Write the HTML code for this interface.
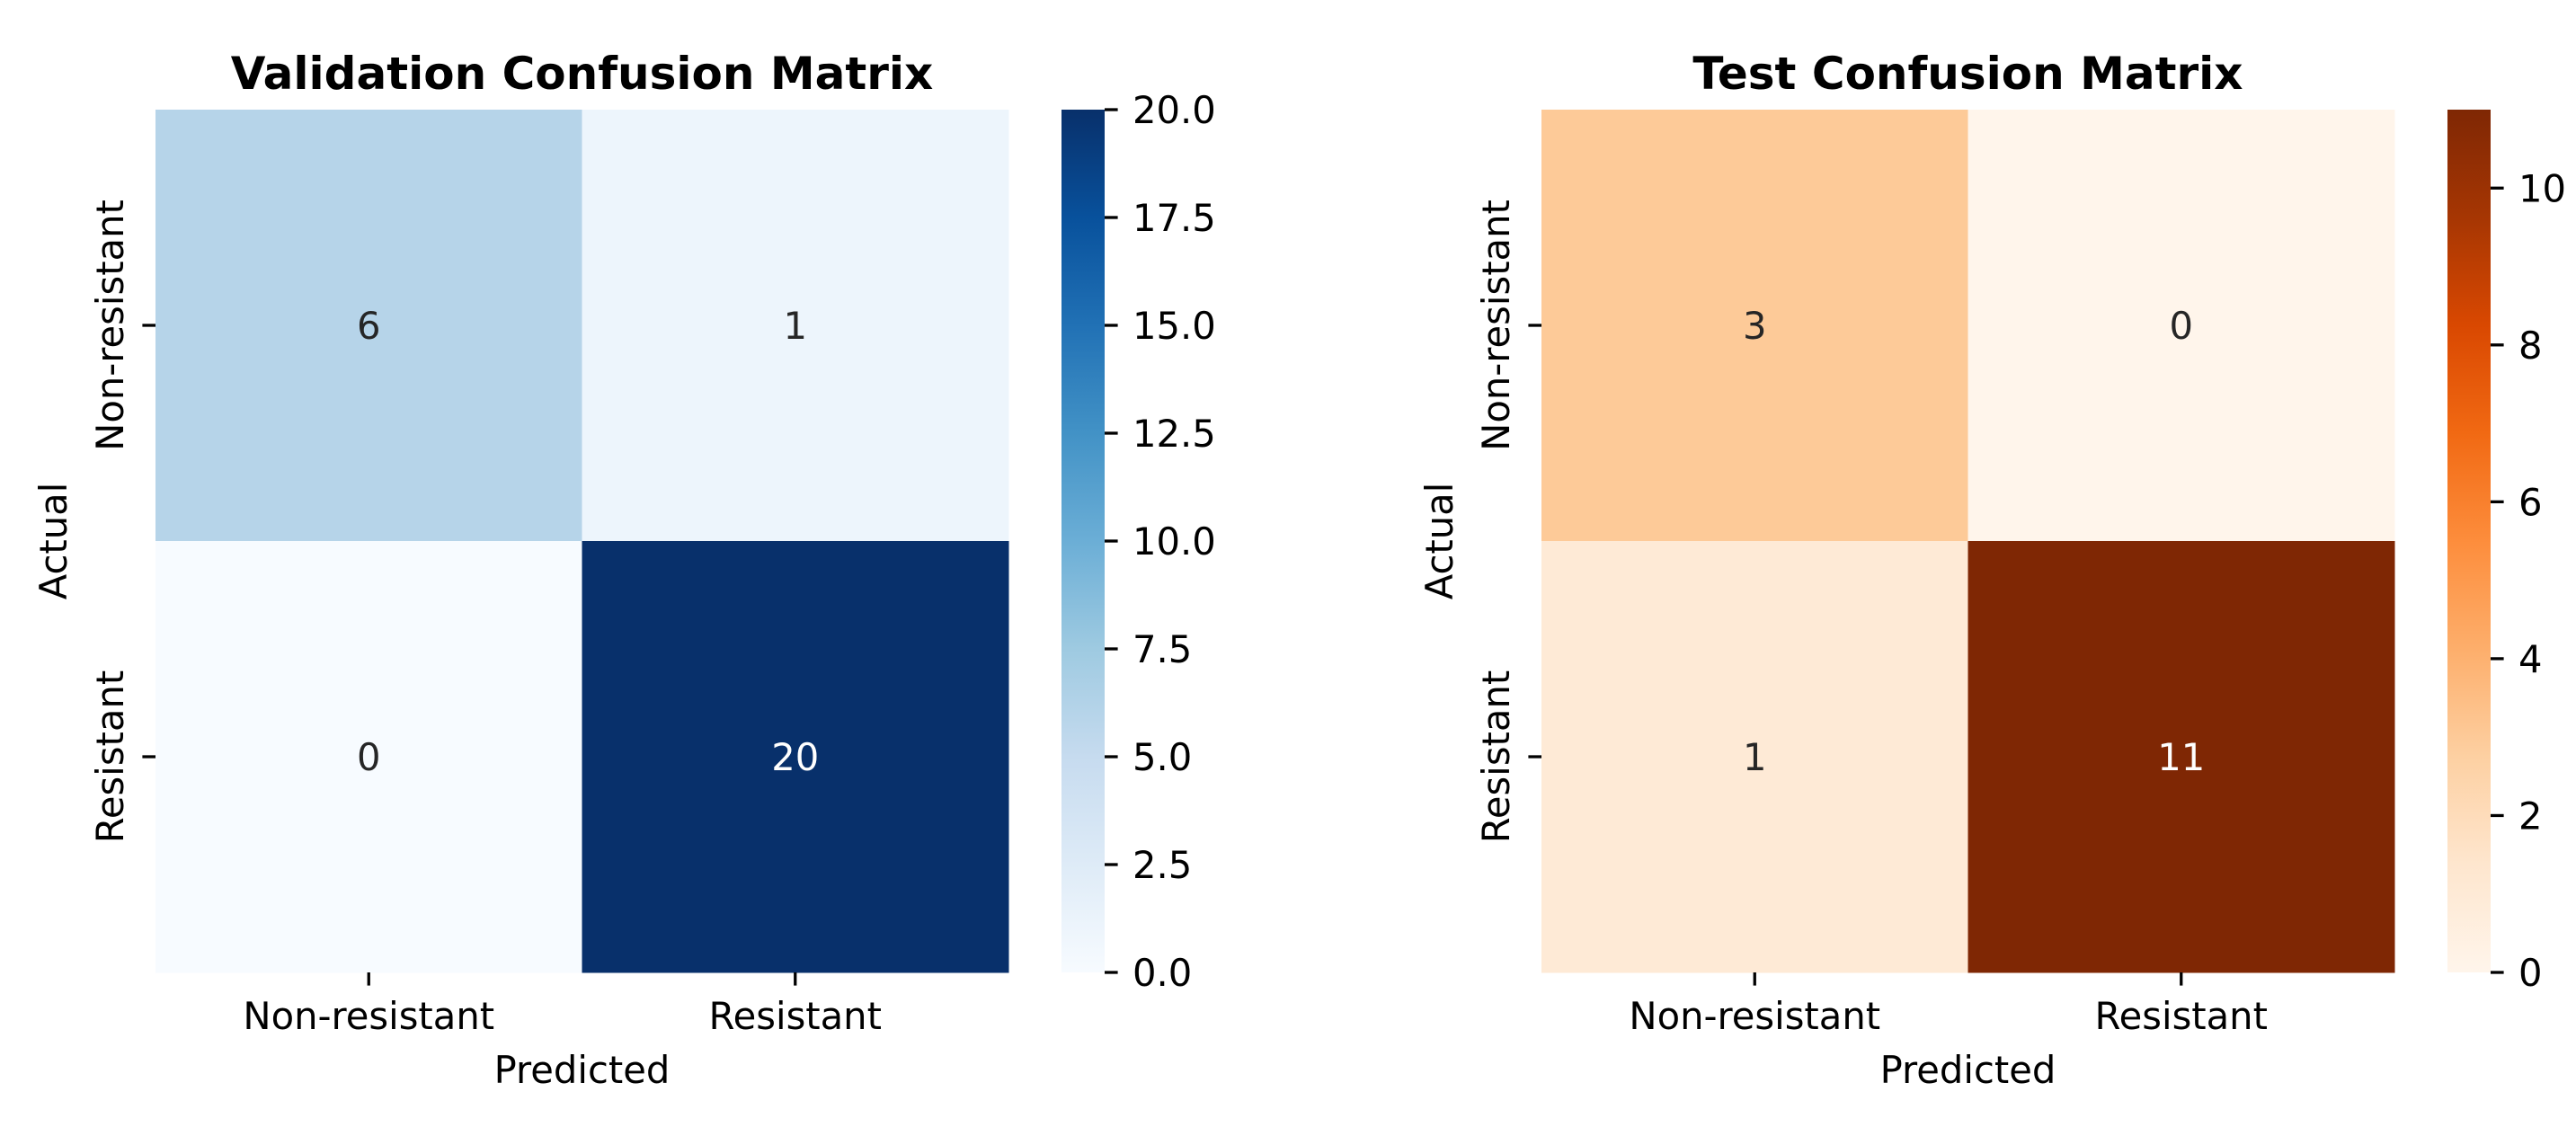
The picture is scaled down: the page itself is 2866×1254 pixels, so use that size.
<!DOCTYPE html>
<html><head><meta charset="utf-8"><style>
html,body{margin:0;padding:0;background:#fff;}
svg{display:block;font-family:"DejaVu Sans","Liberation Sans",sans-serif;}
</style></head><body>
<svg id="fig" width="2866" height="1254" viewBox="0 0 2866 1254" xmlns="http://www.w3.org/2000/svg"></svg>
<script>
const categories = ["Non-resistant","Resistant"];
const valValues = [[6,1],[0,20]];
const testValues = [[3,0],[1,11]];
const valTicks = [0,2.5,5,7.5,10,12.5,15,17.5,20];
const valTickLabels = ["0.0","2.5","5.0","7.5","10.0","12.5","15.0","17.5","20.0"];
const testTicks = [0,2,4,6,8,10];
const testTickLabels = ["0","2","4","6","8","10"];
const valMax = 20, testMax = 11;

const blues = ["#f7fbff","#deebf7","#c6dbef","#9ecae1","#6baed6","#4292c6","#2171b5","#08519c","#08306b"];
const oranges = ["#fff5eb","#fee6ce","#fdd0a2","#fdae6b","#fd8d3c","#f16913","#d94801","#a63603","#7f2704"];
const NS = "http://www.w3.org/2000/svg";
const svg = document.getElementById("fig");
function el(tag, attrs, parent){const e=document.createElementNS(NS,tag);for(const k in attrs)e.setAttribute(k,attrs[k]);(parent||svg).appendChild(e);return e;}
function hex(c){return [1,3,5].map(i=>parseInt(c.substr(i,2),16));}
function cmap(stops,t){t=Math.max(0,Math.min(1,t));const p=t*(stops.length-1);const i=Math.min(Math.floor(p),stops.length-2);const f=p-i;const a=hex(stops[i]),b=hex(stops[i+1]);return "rgb("+a.map((v,k)=>Math.round(v+(b[k]-v)*f)).join(",")+")";}

function panel(cfg){
  const g=el("g",{});
  
  
  const x0=cfg.x0,x1=cfg.x1,y0=122,y1=1082;
  const n=categories.length, cw=(x1-x0)/n, ch=(y1-y0)/n;
  const xs=i=>x0+cw*i, ys=j=>y0+ch*j;
  cfg.values.forEach((row,r)=>row.forEach((v,c)=>{
    const rc=el("rect",{x:xs(c),y:ys(r),width:cw+0.5,height:ch+0.5,fill:cmap(cfg.stops,v/cfg.vmax)},g);
    
    
    const t=el("text",{x:xs(c)+cw/2,y:ys(r)+ch/2+15,"text-anchor":"middle","font-size":"41.7",fill:(v/cfg.vmax>0.5)?"#ffffff":"#262626"},g);
    t.textContent=v;
    
    
  }));
  categories.forEach((cat,i)=>{
    const cx=xs(i)+cw/2;
    el("line",{x1:cx,x2:cx,y1:y1,y2:y1+14.6,stroke:"#000","stroke-width":3.3},g);
    const t=el("text",{x:cx,y:1145,"text-anchor":"middle","font-size":"41.7"},g);
    t.textContent=cat;
    
    
    const cy=ys(i)+ch/2;
    el("line",{x1:x0-14.6,x2:x0,y1:cy,y2:cy,stroke:"#000","stroke-width":3.3},g);
    const ty=el("text",{x:0,y:0,"text-anchor":"middle","font-size":"41.7",transform:"translate("+(x0-36)+","+cy+") rotate(-90)"},g);
    ty.textContent=cat;
    
    
  });
  const title=el("text",{x:(x0+x1)/2,y:99,"text-anchor":"middle","font-size":"50","font-weight":"bold"},g);
  title.textContent=cfg.title;
  
  
  const xl=el("text",{x:(x0+x1)/2,y:1205,"text-anchor":"middle","font-size":"41.7"},g);
  xl.textContent="Predicted";
  
  
  const yl=el("text",{x:0,y:0,"text-anchor":"middle","font-size":"41.7",transform:"translate("+(x0-99)+","+((y0+y1)/2)+") rotate(-90)"},g);
  yl.textContent="Actual";
  
  
  // colorbar
  const gid="grad"+cfg.name;
  const defs=el("defs",{},g);
  const lg=el("linearGradient",{id:gid,x1:0,y1:1,x2:0,y2:0},defs);
  cfg.stops.forEach((s,i)=>el("stop",{offset:(i/(cfg.stops.length-1)),"stop-color":s},lg));
  const cb=el("rect",{x:cfg.cbx,y:y0,width:48,height:y1-y0,fill:"url(#"+gid+")"},g);
  
  
  const cys=v=>y1-(v/cfg.vmax)*(y1-y0);
  cfg.ticks.forEach((v,i)=>{
    const yy=cys(v);
    el("line",{x1:cfg.cbx+48,x2:cfg.cbx+48+14.6,y1:yy,y2:yy,stroke:"#000","stroke-width":3.3},g);
    const t=el("text",{x:cfg.cbx+79,y:yy+15,"font-size":"41.7"},g);
    t.textContent=cfg.tickLabels[i];
    
    
  });
}
panel({name:"validation-matrix",title:"Validation Confusion Matrix",x0:173,x1:1122,cbx:1181,values:valValues,vmax:valMax,stops:blues,ticks:valTicks,tickLabels:valTickLabels});
panel({name:"test-matrix",title:"Test Confusion Matrix",x0:1715,x1:2664,cbx:2723,values:testValues,vmax:testMax,stops:oranges,ticks:testTicks,tickLabels:testTickLabels});
</script>
</body></html>
